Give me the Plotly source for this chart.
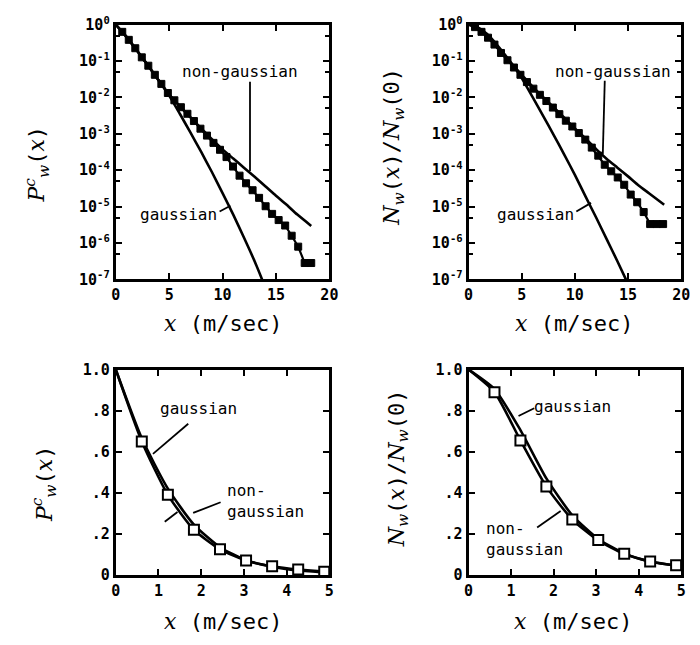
import plotly.graph_objects as go

W, H = 700, 645

# ---------------- data ----------------
# marker abscissae (m/sec)
x_data = [0.61, 1.22, 1.83, 2.44, 3.05, 3.66, 4.27, 4.88, 5.49, 6.10,
          6.71, 7.32, 7.93, 8.54, 9.15, 9.76, 10.37, 10.98, 11.59, 12.20,
          12.81, 13.42, 14.03, 14.64, 15.25, 15.86, 16.47, 17.08, 17.69, 18.30]

# top-left: P_w^c(x), values given as log10 exponents (y = 10**e)
tl_data_exp = [-0.20, -0.42, -0.65, -0.90, -1.13, -1.38, -1.63, -1.88, -2.08, -2.27,
               -2.45, -2.65, -2.86, -3.05, -3.25, -3.44, -3.64, -3.90, -4.15, -4.36,
               -4.55, -4.76, -4.99, -5.20, -5.37, -5.52, -5.80, -6.10, -6.55, -6.55]
tl_ng_x = [0, 1, 2, 3, 4, 5, 6, 7, 8, 9, 10, 11, 12, 13, 14, 15, 16, 17, 18.3]
tl_ng_exp = [0, -0.34, -0.72, -1.11, -1.52, -1.92, -2.25, -2.55, -2.85, -3.15,
             -3.43, -3.68, -3.93, -4.18, -4.44, -4.70, -4.95, -5.22, -5.53]
tl_g_x = [0, 1, 2, 3, 4, 5, 6, 7, 8, 9, 10, 11, 12, 13, 13.7]
tl_g_exp = [0, -0.33, -0.72, -1.12, -1.53, -1.95, -2.45, -2.97, -3.50, -4.05,
            -4.63, -5.22, -5.85, -6.50, -7.0]

# top-right: N_w(x)/N_w(0), log10 exponents
tr_data_exp = [-0.07, -0.20, -0.36, -0.55, -0.78, -0.98, -1.18, -1.38, -1.58, -1.76,
               -1.93, -2.10, -2.28, -2.46, -2.64, -2.80, -2.98, -3.16, -3.38, -3.60,
               -3.85, -4.03, -4.20, -4.40, -4.67, -4.88, -5.15, -5.48, -5.48, -5.48]
tr_ng_x = [0, 1, 2, 3, 4, 5, 6, 7, 8, 9, 10, 11, 12, 13, 14, 15, 16, 17, 18.4]
tr_ng_exp = [0, -0.12, -0.40, -0.73, -1.06, -1.38, -1.70, -1.99, -2.27, -2.56,
             -2.85, -3.13, -3.42, -3.69, -3.93, -4.17, -4.42, -4.64, -4.95]
tr_g_x = [0, 1, 2, 3, 4, 5, 6, 7, 8, 9, 10, 11, 12, 13, 14, 14.8]
tr_g_exp = [0, -0.10, -0.33, -0.67, -1.05, -1.47, -1.98, -2.50, -3.03, -3.57,
            -4.13, -4.72, -5.30, -5.90, -6.50, -7.0]

# bottom panels (linear)
xb_data = [0.61, 1.22, 1.83, 2.44, 3.05, 3.66, 4.27, 4.88]
bl_data = [0.65, 0.39, 0.22, 0.125, 0.07, 0.042, 0.026, 0.016]
bl_ng_x = [0, 0.61, 1.22, 1.83, 2.44, 3.05, 3.66, 4.27, 4.88, 5.0]
bl_ng_y = [1.0, 0.65, 0.39, 0.22, 0.125, 0.07, 0.042, 0.026, 0.016, 0.015]
bl_g_x = [0, 0.61, 1.22, 1.83, 2.44, 3.05, 3.66, 4.27, 5.0]
bl_g_y = [1.0, 0.665, 0.42, 0.245, 0.135, 0.072, 0.040, 0.022, 0.012]

br_data = [0.89, 0.655, 0.43, 0.27, 0.17, 0.103, 0.066, 0.047]
br_ng_x = [0, 0.61, 1.22, 1.83, 2.44, 3.05, 3.66, 4.27, 4.88, 5.0]
br_ng_y = [1.0, 0.89, 0.655, 0.43, 0.27, 0.168, 0.103, 0.066, 0.047, 0.045]
br_g_x = [0, 0.61, 1.22, 1.83, 2.44, 3.05, 3.66, 4.27, 5.0]
br_g_y = [1.0, 0.905, 0.705, 0.47, 0.29, 0.175, 0.105, 0.065, 0.042]

log_tickvals = [1e0, 1e-1, 1e-2, 1e-3, 1e-4, 1e-5, 1e-6, 1e-7]
log_ticktext = ["10<sup>0</sup>", "10<sup>-1</sup>", "10<sup>-2</sup>", "10<sup>-3</sup>",
                "10<sup>-4</sup>", "10<sup>-5</sup>", "10<sup>-6</sup>", "10<sup>-7</sup>"]
log_minor = [5e-1, 5e-2, 5e-3, 5e-4, 5e-5, 5e-6, 5e-7]
lin_tickvals = [0, 0.2, 0.4, 0.6, 0.8, 1.0]
lin_ticktext = ["0", ".2", ".4", ".6", ".8", "1.0"]

# ---------------- figure ----------------
def p(v):
    return [10 ** e for e in v]

fig = go.Figure()
LW = 2.6
line = dict(color="black", width=LW)

def add_panel(k, data_x, data_y, ng_x, ng_y, g_x, g_y, top):
    xa = "x" if k == 1 else f"x{k}"
    ya = "y" if k == 1 else f"y{k}"
    fig.add_trace(go.Scatter(x=g_x, y=g_y, mode="lines", line=dict(line, shape="spline", smoothing=0.6),
                             xaxis=xa, yaxis=ya, showlegend=False))
    fig.add_trace(go.Scatter(x=ng_x, y=ng_y, mode="lines", line=dict(line, shape="spline", smoothing=0.6),
                             xaxis=xa, yaxis=ya, showlegend=False))
    if top:
        fig.add_trace(go.Scatter(x=data_x, y=data_y, mode="lines+markers",
                                 line=dict(color="black", width=2.2),
                                 marker=dict(symbol="square", size=7, color="black",
                                             line=dict(color="black", width=1)),
                                 xaxis=xa, yaxis=ya, showlegend=False))
    else:
        fig.add_trace(go.Scatter(x=data_x, y=data_y, mode="markers",
                                 marker=dict(symbol="square", size=10, color="white",
                                             line=dict(color="black", width=2)),
                                 xaxis=xa, yaxis=ya, showlegend=False))

add_panel(1, x_data, p(tl_data_exp), tl_ng_x, p(tl_ng_exp), tl_g_x, p(tl_g_exp), True)
add_panel(2, x_data, p(tr_data_exp), tr_ng_x, p(tr_ng_exp), tr_g_x, p(tr_g_exp), True)
add_panel(3, xb_data, bl_data, bl_ng_x, bl_ng_y, bl_g_x, bl_g_y, False)
add_panel(4, xb_data, br_data, br_ng_x, br_ng_y, br_g_x, br_g_y, False)

tickfont = dict(family="DejaVu Sans Mono", size=15, color="black", weight="bold")
axcommon = dict(showline=True, linewidth=3, linecolor="black", mirror="ticks",
                ticks="inside", ticklen=6, tickwidth=2, tickcolor="black",
                showgrid=False, zeroline=False, tickfont=tickfont)

def px(x):
    return x / W

def py(y):
    return 1 - y / H

dom_x_left = [px(113), px(331)]
dom_x_right = [px(473), px(690)]
dom_y_top = [py(277), py(14)]
dom_y_bot = [py(582), py(370)]

minor_log = dict(tickvals=log_minor, ticks="inside", ticklen=4, tickwidth=2, tickcolor="black")

fig.update_layout(
    width=W, height=H, margin=dict(l=0, r=0, t=0, b=0),
    paper_bgcolor="white", plot_bgcolor="white",
    xaxis=dict(axcommon, domain=dom_x_left, anchor="y", range=[0, 20], tickvals=[0, 5, 10, 15, 20]),
    yaxis=dict(axcommon, domain=dom_y_top, anchor="x", type="log", range=[-7, 0],
               tickvals=log_tickvals, ticktext=log_ticktext, minor=minor_log),
    xaxis2=dict(axcommon, domain=dom_x_right, anchor="y2", range=[0, 20], tickvals=[0, 5, 10, 15, 20]),
    yaxis2=dict(axcommon, domain=dom_y_top, anchor="x2", type="log", range=[-7, 0],
                tickvals=log_tickvals, ticktext=log_ticktext, minor=minor_log),
    xaxis3=dict(axcommon, domain=dom_x_left, anchor="y3", range=[0, 5], tickvals=[0, 1, 2, 3, 4, 5]),
    yaxis3=dict(axcommon, domain=dom_y_bot, anchor="x3", range=[0, 1],
                tickvals=lin_tickvals, ticktext=lin_ticktext),
    xaxis4=dict(axcommon, domain=dom_x_right, anchor="y4", range=[0, 5], tickvals=[0, 1, 2, 3, 4, 5]),
    yaxis4=dict(axcommon, domain=dom_y_bot, anchor="x4", range=[0, 1],
                tickvals=lin_tickvals, ticktext=lin_ticktext),
)

# ---------------- titles ----------------
IT = "<span style='font-family:DejaVu Serif'><i>{}</i></span>"
title_font = dict(family="DejaVu Sans Mono", size=22, color="black")
xtitle = IT.format("x") + " (m/sec)"
ytitle_p = IT.format("P") + "<sup>" + IT.format("c") + "</sup><sub>" + IT.format("w") + "</sub>(" + IT.format("x") + ")"
ytitle_n = (IT.format("N") + "<sub>" + IT.format("w") + "</sub>(" + IT.format("x") + ")/" +
            IT.format("N") + "<sub>" + IT.format("w") + "</sub>(0)")

def ann(x, y, text, **kw):
    d = dict(x=px(x), y=py(y), xref="paper", yref="paper", text=text, showarrow=False,
             font=title_font, xanchor="center", yanchor="middle")
    d.update(kw)
    fig.add_annotation(**d)

ann(222, 322, xtitle)
ann(581, 322, xtitle)
ann(222, 630, xtitle)
ann(580, 630, xtitle)
ann(33, 158, ytitle_p, textangle=-90)
ann(397, 140, ytitle_n, textangle=-90)
ann(40, 488, ytitle_p, textangle=-90)
ann(401, 472, ytitle_n, textangle=-90)

# ---------------- curve labels & pointers ----------------
lab_font = dict(family="DejaVu Sans Mono", size=16, color="black")

def lab(x, y, text, **kw):
    ann(x, y, text, font=lab_font, **kw)

def seg(x0, y0, x1, y1, w=1.8):
    fig.add_shape(type="line", xref="paper", yref="paper",
                  x0=px(x0), y0=py(y0), x1=px(x1), y1=py(y1),
                  line=dict(color="black", width=w))

lab(240, 62, "non-gaussian")
seg(250, 73, 250, 165)
lab(177, 210, "gaussian")
seg(219, 207, 230, 201)

lab(620, 62, "non-gaussian")
seg(612, 72, 610, 148)
lab(541, 210, "gaussian")
seg(583, 207, 598, 198)

lab(197, 410, "gaussian")
seg(187, 426, 151, 457)
lab(224, 506, "non-<br>gaussian", xanchor="left", align="left")
seg(220, 507, 192, 518)
seg(176, 517, 163, 527)

lab(579, 408, "gaussian")
seg(540, 410, 524, 418)
lab(489, 545, "non-<br>gaussian", xanchor="left", align="left")
seg(543, 533, 567, 516)

fig.write_html("out.html")
